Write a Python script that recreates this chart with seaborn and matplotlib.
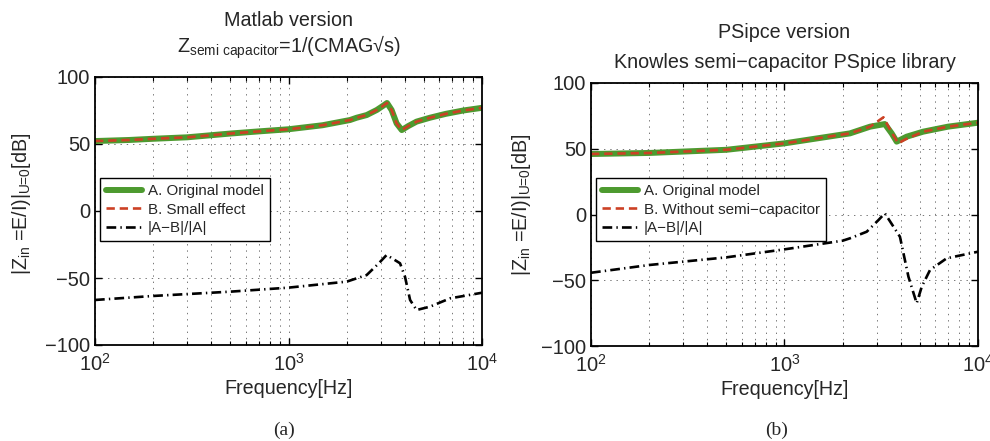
import numpy as np
import pandas as pd
import matplotlib
matplotlib.use("Agg")
import matplotlib.pyplot as plt
import seaborn as sns
from matplotlib.ticker import LogLocator, FixedLocator, NullFormatter

# ---------------- data ----------------
# Panel (a) Matlab version
fa_A = [100, 150, 200, 300, 500, 700, 1000, 1500, 2080, 2250, 2535, 2860, 3080, 3230, 3410, 3620, 3850, 4160, 4590, 5380, 6500, 8000, 10000]
a_A = [52.2, 53.0, 53.9, 55.0, 57.8, 59.4, 61.0, 64.0, 67.9, 69.6, 71.6, 75.4, 78.5, 80.6, 75.4, 65.4, 60.4, 63.4, 66.7, 69.6, 72.5, 75.0, 77.0]
fa_B = fa_A
a_B = [52.2, 53.0, 53.9, 55.0, 57.8, 59.4, 61.0, 64.0, 67.9, 69.6, 71.6, 75.4, 78.5, 80.6, 75.4, 65.4, 60.4, 63.4, 66.7, 69.6, 72.5, 75.0, 77.0]
fa_D = [100, 200, 500, 1000, 2000, 2535, 2920, 3215, 3770, 4000, 4250, 4590, 5380, 6840, 10000]
a_D = [-66.4, -63.4, -60.2, -57.2, -52.7, -47.8, -39.2, -32.8, -39.0, -49.1, -66.4, -73.9, -71.4, -65.2, -61.0]

# Panel (b) PSpice version
fb_A = [100, 200, 500, 1000, 2180, 2770, 3300, 3580, 3800, 4280, 5210, 7000, 10000]
b_A = [46.0, 46.8, 49.2, 54.1, 61.7, 66.8, 68.8, 61.7, 55.4, 59.2, 63.0, 66.8, 69.8]
fb_B = [100, 200, 500, 1000, 2180, 2770, 3245, 3520, 3870, 4210, 5210, 7000, 10000]
b_B = [46.0, 46.8, 49.2, 54.1, 61.7, 66.8, 73.9, 64.3, 54.1, 57.1, 63.0, 66.8, 69.8]
fb_D = [100, 200, 500, 1000, 2000, 2180, 2660, 3060, 3300, 3950, 4370, 4820, 5120, 5650, 6890, 10000]
b_D = [-44.3, -38.4, -32.6, -26.5, -19.9, -18.1, -13.1, -4.2, 0.9, -16.9, -47.3, -67.5, -54.9, -42.2, -33.3, -28.3]

labels_a = ["A. Original model", "B. Small effect", "|A\u2212B|/|A|"]
labels_b = ["A. Original model", "B. Without semi\u2212capacitor", "|A\u2212B|/|A|"]
yticks = [-100, -50, 0, 50, 100]

# ---------------- style ----------------
sns.set_style("ticks")
plt.rcParams["font.family"] = ["Liberation Sans", "DejaVu Sans"]
plt.rcParams["mathtext.fontset"] = "custom"
plt.rcParams["mathtext.rm"] = "Liberation Sans"
plt.rcParams["mathtext.it"] = "Liberation Sans:italic"
plt.rcParams["mathtext.bf"] = "Liberation Sans:bold"
plt.rcParams["lines.scale_dashes"] = False

GREEN = "#4d9a2f"
RED = "#cc4125"

fig = plt.figure(figsize=(9.9, 4.41), dpi=100)
W, H = 990.0, 441.0
ax1 = fig.add_axes([95 / W, (H - 345) / H, 387 / W, 268 / H])
ax2 = fig.add_axes([591 / W, (H - 346) / H, 387 / W, 263 / H])


def draw(ax, fA, yA, fB, yB, fD, yD, labels):
    sns.lineplot(x=fA, y=yA, ax=ax, color=GREEN, lw=4.3, label=labels[0], sort=False)
    sns.lineplot(x=fB, y=yB, ax=ax, color=RED, lw=1.9, label=labels[1], sort=False,
                 linestyle=(0, (6, 3.5)))
    sns.lineplot(x=fD, y=yD, ax=ax, color="black", lw=1.9, label=labels[2], sort=False,
                 linestyle=(0, (7, 3, 1, 3)))
    ax.set_xscale("log")
    ax.set_xlim(100, 10000)
    ax.set_ylim(-100, 100)
    ax.yaxis.set_major_locator(FixedLocator(yticks))
    ax.xaxis.set_major_locator(LogLocator(base=10, numticks=10))
    ax.xaxis.set_minor_locator(LogLocator(base=10, subs=np.arange(2, 10), numticks=20))
    ax.xaxis.set_minor_formatter(NullFormatter())
    ax.grid(True, which="major", axis="both", color="#777777", lw=0.7, linestyle=(0, (1, 3.5)))
    ax.grid(True, which="minor", axis="x", color="#777777", lw=0.7, linestyle=(0, (1, 3.5)))
    ax.tick_params(which="both", direction="in", top=True, right=True, labelsize=14.5, color="black")
    ax.tick_params(which="major", length=5, width=1)
    ax.tick_params(which="minor", length=3, width=0.8)
    ax.tick_params(axis="x", pad=6)
    for s in ax.spines.values():
        s.set_linewidth(1.3)
        s.set_color("black")
    ax.set_xlabel("Frequency[Hz]", fontsize=14.2, labelpad=3)
    ax.set_ylabel("|Z$_{\\mathrm{in}}$ =E/I)|$_{\\mathrm{U\\!\\!=\\!0}}$[dB]", fontsize=14.2)


draw(ax1, fa_A, a_A, fa_B, a_B, fa_D, a_D, labels_a)
draw(ax2, fb_A, b_A, fb_B, b_B, fb_D, b_D, labels_b)

ax1.yaxis.set_label_coords(-0.16, 0.526)
ax2.yaxis.set_label_coords(-0.15, 0.536)

for ax, y1 in ((ax1, 0.623), (ax2, 0.639)):
    leg = ax.legend(loc="upper left", bbox_to_anchor=(0.013, y1), fontsize=10.9,
                    frameon=True, fancybox=False, framealpha=1, edgecolor="black",
                    handlelength=2.4, handletextpad=0.35, labelspacing=0.3,
                    borderpad=0.4, borderaxespad=0)
    leg.get_frame().set_linewidth(1.0)

# titles
fig.text(288.5 / W, 1 - 20 / H, "Matlab version", ha="center", va="center", fontsize=14.2)
fig.text(288.5 / W, 1 - 47 / H, "Z$_{\\mathrm{semi\\ capacitor}}$=1/(CMAG\u221as)",
         ha="center", va="center", fontsize=14.2)
fig.text(784.5 / W, 1 - 32 / H, "PSipce version", ha="center", va="center", fontsize=14.2)
fig.text(784.5 / W, 1 - 62 / H, "Knowles semi\u2212capacitor PSpice library",
         ha="center", va="center", fontsize=14.2)

# captions
fig.text(284 / W, 1 - 430 / H, "(a)", ha="center", va="center", fontsize=14,
         family=["Liberation Serif", "DejaVu Serif"])
fig.text(777 / W, 1 - 430 / H, "(b)", ha="center", va="center", fontsize=14,
         family=["Liberation Serif", "DejaVu Serif"])

fig.savefig("out.png", dpi=100)
